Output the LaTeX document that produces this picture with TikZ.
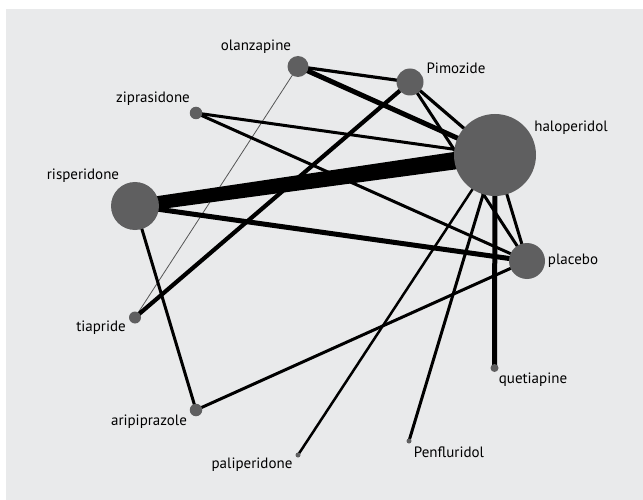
\documentclass[tikz,border=0pt]{standalone}
\usepackage{fontspec}
\setmainfont{PT Sans}
\usetikzlibrary{calc}
\pgfdeclarelayer{bglayer}
\pgfdeclarelayer{edgelayer}
\pgfsetlayers{bglayer,edgelayer,main}
\definecolor{panelgray}{HTML}{E9EAEB}
\definecolor{nodegray}{HTML}{5F5F60}
\definecolor{thingray}{HTML}{555555}
\tikzset{
  drug/.style={circle, fill=nodegray, draw=none, inner sep=0pt, minimum size=#1},
  lbl/.style={font=\fontsize{15}{15}\selectfont, inner sep=0pt, text height=0.72em, text depth=0.2em, anchor=center},
  link/.style={draw=black, line width=#1},
  thinlink/.style={draw=thingray, line width=0.8pt},
}
\begin{document}
\begin{tikzpicture}[x=1pt, y=-1pt]
\useasboundingbox (0,0) rectangle (643,500);
\begin{pgfonlayer}{bglayer}
  \fill[white] (0,0) rectangle (643,500);
  \fill[panelgray] (6,9) rectangle (643,500);
\end{pgfonlayer}
% nodes
\node[drug=21pt] (olan) at (298,66.5) {};
\node[drug=27pt] (pimo) at (410,82) {};
\node[drug=12.5pt] (zipr) at (196,113) {};
\node[drug=82pt] (halo) at (495,155) {};
\node[drug=48pt] (risp) at (135,206) {};
\node[drug=36pt] (plac) at (527,261) {};
\node[drug=12pt] (tiap) at (135,317.5) {};
\node[drug=12.5pt] (arip) at (196,410) {};
\node[drug=5pt] (pali) at (298,455) {};
\node[drug=5pt] (penf) at (409,441) {};
\node[drug=8pt] (quet) at (494.5,368) {};
% labels
\node[lbl] (lolan) at (256,48) {olanzapine};
\node[lbl] (lpimo) at (456,71) {Pimozide};
\node[lbl] (lzipr) at (153,100) {ziprasidone};
\node[lbl] (lhalo) at (571,129) {haloperidol};
\node[lbl] (lrisp) at (83,177) {risperidone};
\node[lbl] (lplac) at (573,262) {placebo};
\node[lbl] (ltiap) at (101,329) {tiapride};
\node[lbl] (larip) at (149,423) {aripiprazole};
\node[lbl] (lpali) at (252,466) {paliperidone};
\node[lbl] (lpenf) at (449,455) {Penfluridol};
\node[lbl] (lquet) at (533,381) {quetiapine};
% edges
\begin{pgfonlayer}{edgelayer}
  \draw[thinlink] (olan.center) -- (tiap.center);
  \draw[link=3.2pt] (olan.center) -- (pimo.center);
  \draw[link=5pt] (olan.center) -- (halo.center);
  \draw[link=3.2pt] (pimo.center) -- (halo.center);
  \draw[link=3pt] (pimo.center) -- (plac.center);
  \draw[link=4.2pt] (pimo.center) -- (tiap.center);
  \draw[link=3pt] (zipr.center) -- (halo.center);
  \draw[link=3pt] (zipr.center) -- (plac.center);
  \fill[black] ($(risp.center)!6.5pt!90:(halo.center)$) -- ($(risp.center)!6.5pt!-90:(halo.center)$)
     -- ($(halo.center)!9pt!90:(risp.center)$) -- ($(halo.center)!9pt!-90:(risp.center)$) -- cycle;
  \draw[link=5pt] (risp.center) -- (plac.center);
  \draw[link=3pt] (risp.center) -- (arip.center);
  \draw[link=3pt] (halo.center) -- (plac.center);
  \draw[link=5pt] (halo.center) -- (quet.center);
  \draw[link=2.5pt] (halo.center) -- (pali.center);
  \draw[link=3pt] (halo.center) -- (penf.center);
  \draw[link=3pt] (plac.center) -- (arip.center);
\end{pgfonlayer}
\end{tikzpicture}
\end{document}
